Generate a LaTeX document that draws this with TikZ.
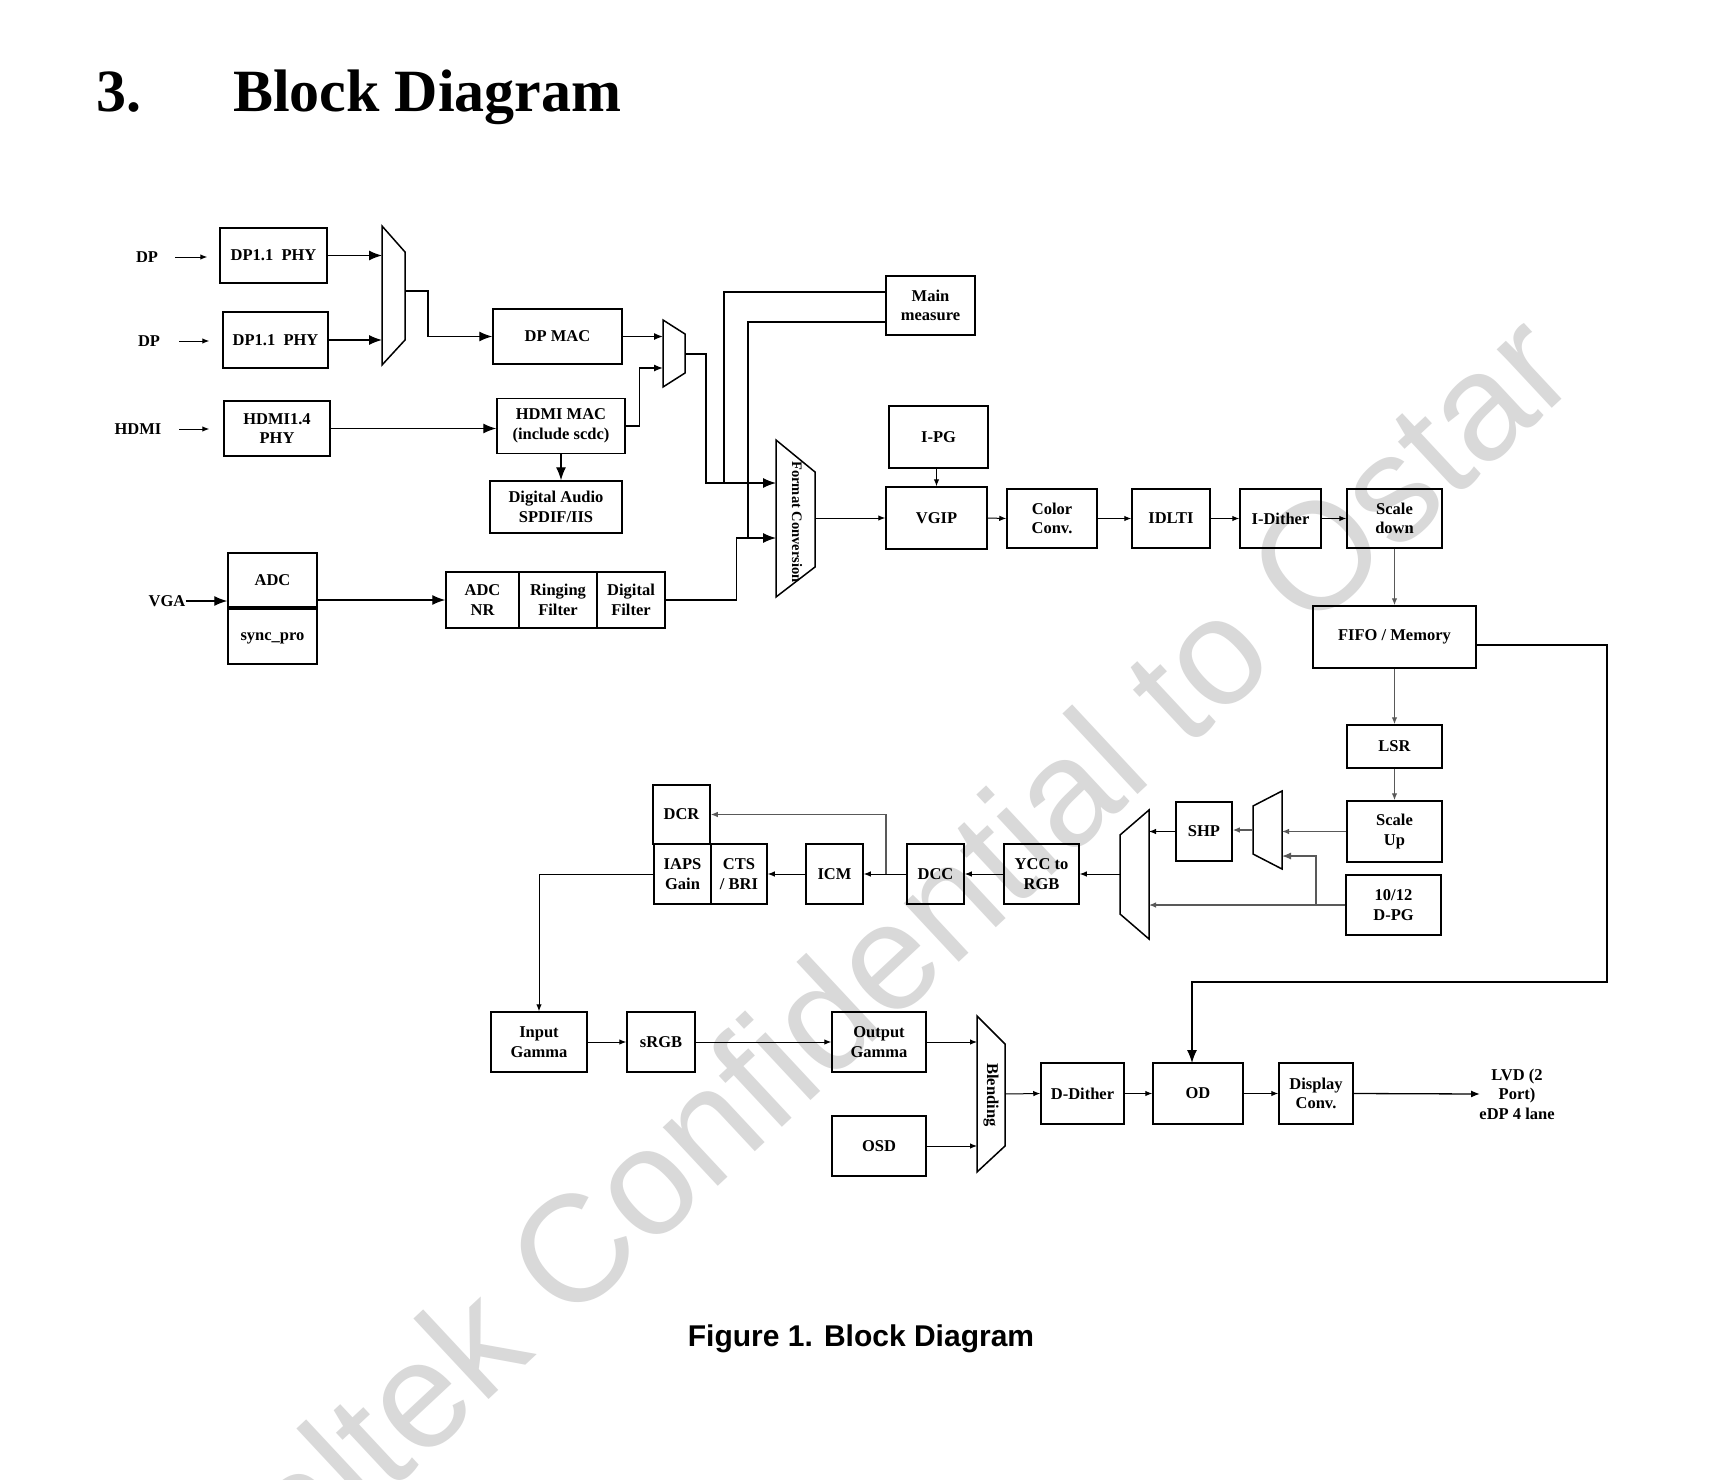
\documentclass[tikz,border=0pt]{standalone}
\usepackage{fontspec}
\setmainfont{Liberation Serif}
\newfontfamily\wmfamily{Liberation Sans}
\newfontfamily\capfamily{Liberation Sans}
\usetikzlibrary{arrows.meta,calc}
\newcommand\bxfont{\fontsize{16.5}{19.5}\selectfont\bfseries}
\newcommand\rotfont{\fontsize{14.5}{16}\selectfont\bfseries}
\newcommand\ttlfont{\fontsize{60}{66}\selectfont\bfseries}
\newcommand\cpfont{\capfamily\fontsize{30}{34}\selectfont\bfseries}
\newcommand\wmfont{\wmfamily\fontsize{152}{160}\selectfont}
\begin{document}
\begin{tikzpicture}[x=1pt,y=-1pt,
  box/.style={draw, line width=1.5pt, inner sep=0pt, align=center, font=\bxfont},
  B/.style 2 args={box, minimum width=#1pt, minimum height=#2pt},
  lbl/.style={inner sep=0pt, align=center, font=\bxfont},
  mux/.style={draw, line width=1.5pt, line join=miter},
  cn/.style={line width=1.3pt},
  cnS/.style={line width=1pt},
  cnG/.style={line width=1.2pt, draw=black!65},
  arrL/.style={-{Latex[length=13pt,width=10pt]}},
  arrM/.style={-{Latex[length=9pt,width=7pt]}},
  arrS/.style={-{Latex[length=7pt,width=5.5pt]}}]
\useasboundingbox (0,0) rectangle (1719,1480);
\fill[white] (0,0) rectangle (1719,1480);
\clip (0,0) rectangle (1719,1480);

% watermark
\node[font=\wmfont, text=black!15, rotate=43, anchor=base east, inner sep=0pt] (wm) at (1582,381) {Realtek Confidential to Ostar};

% title and caption
\node[anchor=base west, font=\ttlfont, inner sep=0pt] (num) at (96,111) {3.};
\node[anchor=base west, font=\ttlfont, inner sep=0pt] (ttl) at (233,111) {Block Diagram};
\node[anchor=base, font=\cpfont, inner sep=0pt] (cap) at (861,1346) {Figure 1. Block Diagram};

% input labels
\node[lbl] (dpA) at (147,257) {DP};
\node[lbl] (dpB) at (149,341) {DP};
\node[lbl] (hdmi) at (138,429) {HDMI};
\node[lbl] (vga) at (167,601) {VGA};

% boxes
\node[B={107}{55}] (phyA) at (273.5,255.5) {DP1.1\ \ PHY};
\node[B={105}{56}] (phyB) at (275.5,340) {DP1.1\ \ PHY};
\node[B={106}{55}] (phyH) at (277,428.5) {HDMI1.4\\PHY};
\node[B={129}{55}] (dpmac) at (557.5,336.5) {DP MAC};
\node[B={128}{55}] (hdmimac) at (561,426) {HDMI MAC\\(include scdc)};
\node[B={132}{52}] (audio) at (556,507) {Digital Audio\\SPDIF/IIS};
\node[B={89}{59}] (mainm) at (930.5,305.5) {Main\\measure};
\node[B={99}{62}] (ipg) at (938.5,437) {I-PG};
\node[B={101}{62}] (vgip) at (936.5,518) {VGIP};
\node[B={90}{59}] (colorconv) at (1052,518.5) {Color\\Conv.};
\node[B={78}{59}] (idlti) at (1171,518.5) {IDLTI};
\node[B={81}{59}] (idither) at (1280.5,518.5) {I-Dither};
\node[B={95}{59}] (scaledown) at (1394.5,518.5) {Scale\\down};
\node[B={163}{62}] (fifo) at (1394.5,637) {FIFO / Memory};
\node[B={95}{43}] (lsr) at (1394.5,746.5) {LSR};
\node[B={95}{61}] (scaleup) at (1394.5,831.5) {Scale\\Up};
\node[B={95}{60}] (dpg) at (1393.5,905) {10/12\\D-PG};
\node[B={56}{59}] (shp) at (1204,831.5) {SHP};
\node[B={75}{60}] (ycc) at (1041.5,874) {YCC to\\RGB};
\node[B={57}{60}] (dcc) at (935.5,874) {DCC};
\node[B={57}{60}] (icm) at (834.5,874) {ICM};
\node[B={56}{60}] (cts) at (739,874) {CTS\\/ BRI};
\node[B={57}{60}] (iaps) at (682.5,874) {IAPS\\Gain};
\node[B={57}{59}] (dcr) at (681.5,814.5) {DCR};
\node[B={96}{60}] (ingamma) at (539,1042) {Input\\Gamma};
\node[B={68}{60}] (srgb) at (661,1042) {sRGB};
\node[B={94}{60}] (outgamma) at (879,1042) {Output\\Gamma};
\node[B={94}{60}] (osd) at (879,1146) {OSD};
\node[B={83}{61}] (ddither) at (1082.5,1093.5) {D-Dither};
\node[B={90}{61}] (od) at (1198,1093.5) {OD};
\node[B={74}{61}] (dispconv) at (1316,1093.5) {Display\\Conv.};
\node[B={89}{54}] (adc) at (272.5,580) {ADC};
\node[B={89}{55}] (sync) at (272.5,636.5) {\raisebox{0pt}[\height][0pt]{sync\_pro}};
\node[B={73}{56}] (adcnr) at (482.5,600) {ADC\\NR};
\node[B={78}{56}] (ringing) at (558,600) {Ringing\\Filter};
\node[B={68}{56}] (digfilt) at (631,600) {Digital\\Filter};
\node[lbl] (lvd) at (1517,1094) {LVD (2\\Port)\\eDP 4 lane};

% multiplexers
\coordinate (m1tl) at (382,226); \coordinate (m1bl) at (382,365);
\coordinate (m1tr) at (405,252); \coordinate (m1br) at (405,340);
\draw[mux] (m1tl) -- (m1tr) -- (m1br) -- (m1bl) -- cycle;
\coordinate (m1out) at (405,291);

\coordinate (m2tl) at (663,320); \coordinate (m2bl) at (663,387);
\coordinate (m2tr) at (685,334); \coordinate (m2br) at (685,373);
\draw[mux] (m2tl) -- (m2tr) -- (m2br) -- (m2bl) -- cycle;
\coordinate (m2inB) at (663,368); \coordinate (m2out) at (685,354);

\coordinate (fctl) at (776,440); \coordinate (fcbl) at (776,597);
\coordinate (fctr) at (815,472); \coordinate (fcbr) at (815,567);
\draw[mux] (fctl) -- (fctr) -- (fcbr) -- (fcbl) -- cycle;
\node[rotate=-90, font=\rotfont, inner sep=0pt] (fctext) at (797,522) {Format Conversion};
\coordinate (fcA) at (776,483); \coordinate (fcB) at (776,538); \coordinate (fcout) at (815,518);

\coordinate (m3tl) at (1253,806); \coordinate (m3bl) at (1253,854);
\coordinate (m3tr) at (1282,791); \coordinate (m3br) at (1282,869);
\draw[mux] (m3tl) -- (m3tr) -- (m3br) -- (m3bl) -- cycle;
\coordinate (m3inB) at (1282,856); \coordinate (m3out) at (1253,830);

\coordinate (m4tl) at (1120,835); \coordinate (m4bl) at (1120,914);
\coordinate (m4tr) at (1149,810); \coordinate (m4br) at (1149,939);
\draw[mux] (m4tl) -- (m4tr) -- (m4br) -- (m4bl) -- cycle;
\coordinate (m4out) at (1120,874);

\coordinate (bltl) at (977,1016); \coordinate (blbl) at (977,1172);
\coordinate (bltr) at (1005,1044); \coordinate (blbr) at (1005,1146);
\draw[mux] (bltl) -- (bltr) -- (blbr) -- (blbl) -- cycle;
\node[rotate=-90, font=\bxfont, inner sep=0pt] (bltext) at (991,1095) {Blending};
\coordinate (blout) at (1005,1094);

% input arrows
\coordinate (aA) at (175,257); \coordinate (aB) at (179,341); \coordinate (aH) at (179,429);
\draw[cnS, arrS, shorten >=12pt] (aA) -- (aA -| phyA.west);
\draw[cnS, arrS, shorten >=13pt] (aB) -- (aB -| phyB.west);
\draw[cnS, arrS, shorten >=14pt] (aH) -- (aH -| phyH.west);
\draw[cn, arrL] (vga.east) -- (vga.east -| adc.west);

% upper connectors
\draw[cn, arrL] (phyA.east) -- (phyA.east -| m1tl);
\draw[cn, arrL] (phyB.east) -- (phyB.east -| m1tl);
\draw[cn, arrL] (m1out) -- ++(23,0) |- (dpmac.west);
\draw[cn, arrL] (phyH.east) -- (phyH.east -| hdmimac.west);
\draw[cn, arrL] (hdmimac.south) -- (hdmimac.south |- audio.north);
\draw[cn, arrM] (dpmac.east) -- (dpmac.east -| m2tl);
\draw[cn, arrM] (hdmimac.east) -- ++(14,0) |- (m2inB);
\draw[cn, arrL] (m2out) -- ++(21,0) |- (fcA);
\draw[cn, arrL] (adcnr.west -| adc.east) -- (adcnr.west);
\draw[cn, arrL] (digfilt.east) -- ++(71,0) |- (fcB);
\coordinate (mmA) at (886,292); \coordinate (mmB) at (886,322);
\coordinate (jA) at (724,483); \coordinate (jB) at (748,538);
\draw[cn] (mmA) -| (jA);
\draw[cn] (mmB) -| (jB);

% main pipeline
\draw[cnS, arrS] (fcout) -- (vgip.west);
\draw[cnS, arrS] (ipg.south -| vgip.north) -- (vgip.north);
\draw[cnS, arrS] (vgip.east) -- (colorconv.west);
\draw[cnS, arrS] (colorconv.east) -- (idlti.west);
\draw[cnS, arrS] (idlti.east) -- (idither.west);
\draw[cnS, arrS] (idither.east) -- (scaledown.west);
\draw[cnG, arrS] (scaledown.south) -- (fifo.north);
\draw[cnG, arrS] (fifo.south) -- (lsr.north);
\draw[cnG, arrS] (lsr.south) -- (scaleup.north);
\coordinate (fifoOut) at (1476,645); \coordinate (cR) at (1607,982); \coordinate (odIn) at (1192,1063);
\draw[cn, arrL] (fifoOut) -| (cR) -| (odIn);

\draw[cnG, arrS] (scaleup.west) -- (scaleup.west -| m3tr);
\coordinate (jD) at (1316,905);
\draw[cnG] (dpg.west) -- (jD);
\draw[cnG, arrM] (jD) |- (m3inB);
\draw[cnG, arrS] (dpg.west) -- (dpg.west -| m4tr);
\draw[cnG, arrS] (m3out) -- (m3out -| shp.east);
\draw[cnS, arrS] (shp.west) -- (shp.west -| m4tr);
\draw[cnS, arrS] (m4out) -- (ycc.east);
\draw[cnS, arrS] (ycc.west) -- (dcc.east);
\draw[cnS, arrS] (dcc.west) -- (icm.east);
\draw[cnS, arrS] (icm.west) -- (cts.east);
\coordinate (jE) at (886,874);
\draw[cnG, arrS] (jE) |- (dcr.east);
\draw[cnS, arrS] (iaps.west) -| (ingamma.north);
\draw[cnS, arrS] (ingamma.east) -- (srgb.west);
\draw[cnS, arrS] (srgb.east) -- (outgamma.west);
\draw[cnS, arrS] (outgamma.east) -- (outgamma.east -| bltl);
\draw[cnS, arrS] (osd.east) -- (osd.east -| bltl);
\draw[cnS, arrS] (blout) -- (ddither.west);
\draw[cnS, arrS] (ddither.east) -- (od.west);
\draw[cnS, arrS] (od.east) -- (dispconv.west);
\coordinate (lvdIn) at (1480,1094);
\draw[cn, arrM] (dispconv.east) -- (lvdIn);
\end{tikzpicture}
\end{document}
